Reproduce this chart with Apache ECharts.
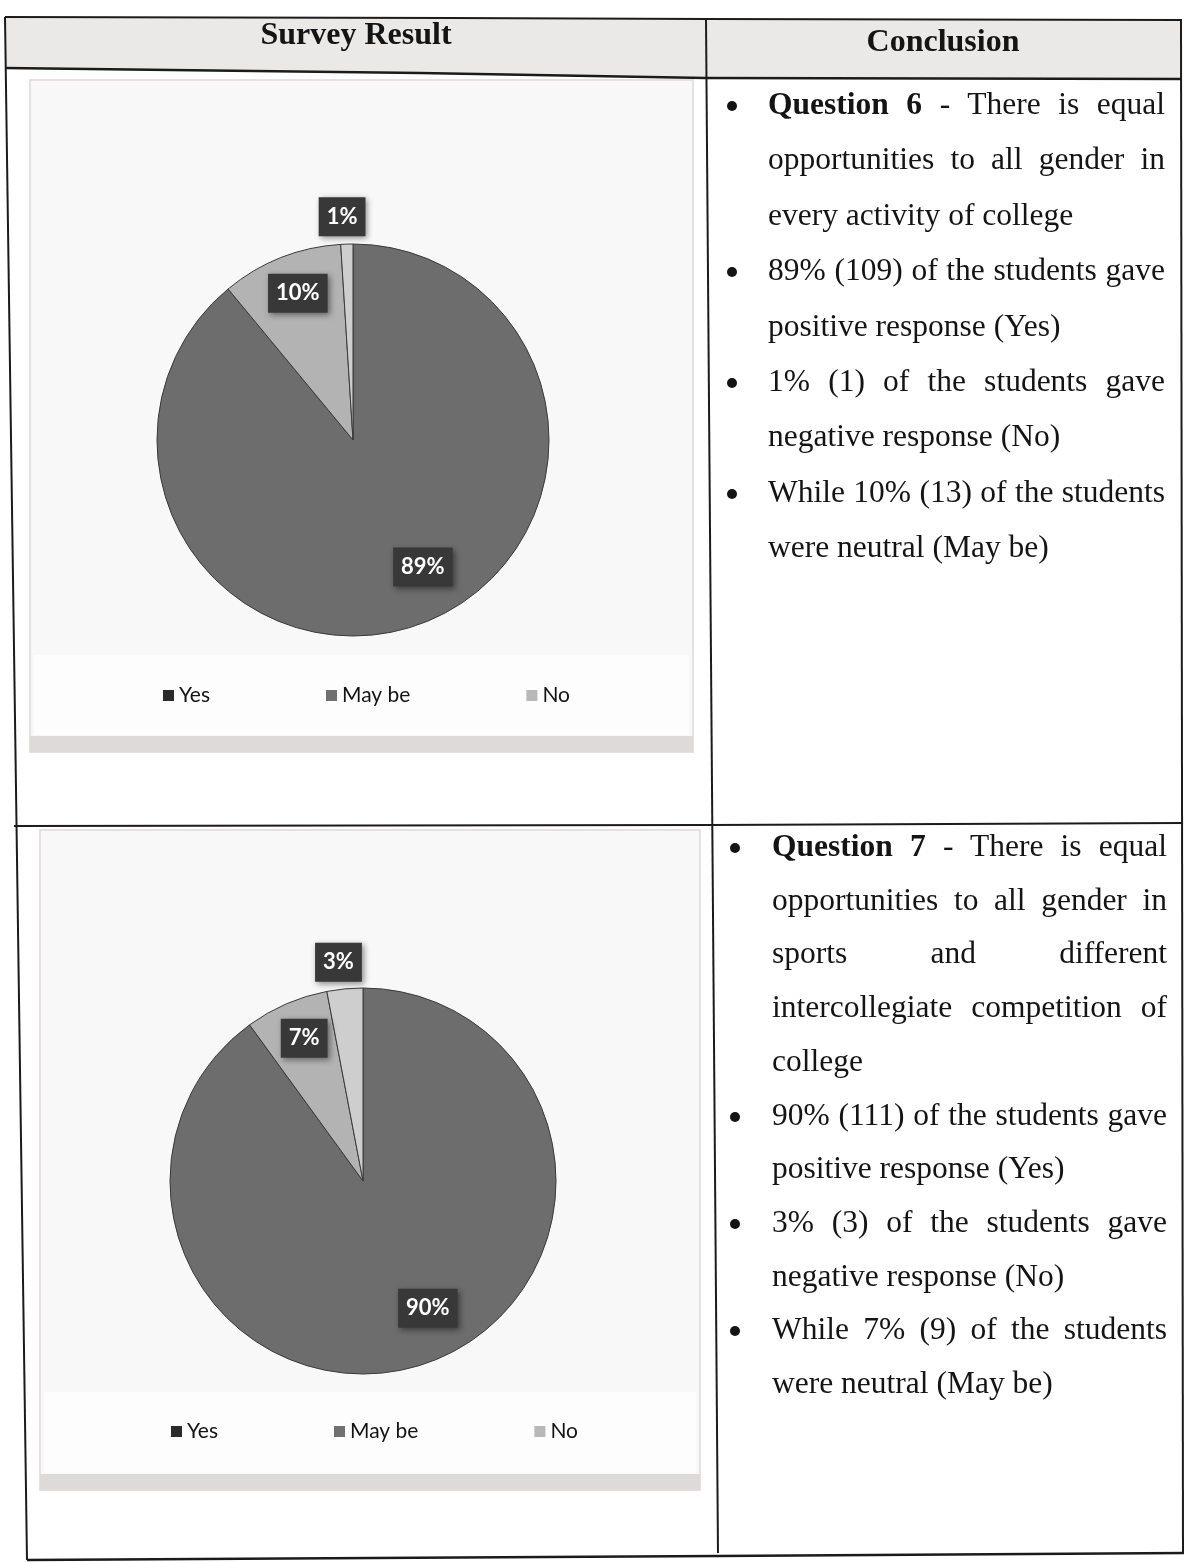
<!DOCTYPE html>
<html>
<head>
<meta charset="utf-8">
<script src="https://cdn.jsdelivr.net/npm/echarts@6/dist/echarts.min.js"></script>
<style>
html,body{margin:0;padding:0;background:#fff;}
#page{position:relative;width:1184px;height:1562px;overflow:hidden;background:#fff;}
#chart{position:absolute;left:0;top:0;width:1184px;height:1562px;}
.t{position:absolute;font-family:"Liberation Serif","Times New Roman",serif;font-size:31.5px;color:#141414;height:40px;line-height:40px;}
.j{text-align:justify;text-align-last:justify;}
.b{position:absolute;width:10px;height:10px;border-radius:50%;background:#141414;}
.h{position:absolute;font-family:"Liberation Serif","Times New Roman",serif;font-weight:bold;font-size:32px;color:#141414;text-align:center;height:40px;line-height:40px;width:400px;}
</style>
</head>
<body>
<div id="page">
  <div id="chart"></div>
  <div id="text"></div>
</div>
<script>
// ---- data ----
const categories = ['Yes', 'May be', 'No'];
const q6Values = [89, 10, 1];
const q7Values = [90, 7, 3];
const headerTitles = ['Survey Result', 'Conclusion'];
const q6Lines = [
  {html: '<b>Question 6</b> - There is equal', j: true, bullet: true},
  {html: 'opportunities to all gender in', j: true},
  {html: 'every activity of college'},
  {html: '89% (109) of the students gave', j: true, bullet: true},
  {html: 'positive response (Yes)'},
  {html: '1% (1) of the students gave', j: true, bullet: true},
  {html: 'negative response (No)'},
  {html: 'While 10% (13) of the students', j: true, bullet: true},
  {html: 'were neutral (May be)'}
];
const q7Lines = [
  {html: '<b>Question 7</b> - There is equal', j: true, bullet: true},
  {html: 'opportunities to all gender in', j: true},
  {html: 'sports and different', j: true},
  {html: 'intercollegiate competition of', j: true},
  {html: 'college'},
  {html: '90% (111) of the students gave', j: true, bullet: true},
  {html: 'positive response (Yes)'},
  {html: '3% (3) of the students gave', j: true, bullet: true},
  {html: 'negative response (No)'},
  {html: 'While 7% (9) of the students', j: true, bullet: true},
  {html: 'were neutral (May be)'}
];

// ---- text (table cells) ----
const textRoot = document.getElementById('text');
function addHeader(txt, cx, cy) {
  const d = document.createElement('div');
  d.className = 'h';
  d.style.left = (cx - 200) + 'px';
  d.style.top = (cy - 20) + 'px';
  d.textContent = txt;
  textRoot.appendChild(d);
}
addHeader(headerTitles[0], 356, 33);
addHeader(headerTitles[1], 943, 40);

function addBlock(lines, firstCy, step, left, width, bulletX) {
  lines.forEach((ln, i) => {
    const cy = firstCy + i * step;
    const d = document.createElement('div');
    d.className = 't' + (ln.j ? ' j' : '');
    d.style.left = left + 'px';
    d.style.width = width + 'px';
    d.style.top = (cy - 20) + 'px';
    d.innerHTML = ln.html;
    textRoot.appendChild(d);
    if (ln.bullet) {
      const b = document.createElement('div');
      b.className = 'b';
      b.style.left = (bulletX - 5) + 'px';
      b.style.top = (cy + 2 - 5) + 'px';
      textRoot.appendChild(b);
    }
  });
}
addBlock(q6Lines, 104, 55.4, 768, 397, 732);
addBlock(q7Lines, 846, 53.7, 772, 395, 735);

// ---- chart ----
const pieColors = ['#6d6d6d', '#b3b3b3', '#cecece'];
const legendIconColors = ['#2b2b2b', '#707070', '#b8b8b8'];
const labelFrac = [0.74, 0.8, 1.14];
const labelShift = [-9, 1, -1];

function pieSeries(values, center, radius) {
  const total = values.reduce((a, b) => a + b, 0);
  return {
    type: 'pie',
    center: center,
    radius: radius,
    startAngle: 90,
    clockwise: true,
    animation: false,
    silent: true,
    avoidLabelOverlap: false,
    color: pieColors,
    itemStyle: {borderColor: '#3a3a3a', borderWidth: 1},
    label: {
      show: true,
      position: 'inside',
      formatter: p => p.value + '%',
      color: '#ffffff',
      fontFamily: 'Lato',
      fontWeight: 'bold',
      fontSize: 22,
      backgroundColor: '#383838',
      padding: [9, 8, 8, 8],
      shadowColor: 'rgba(0,0,0,0.45)',
      shadowBlur: 6,
      shadowOffsetX: 2,
      shadowOffsetY: 2
    },
    labelLine: {show: false},
    labelLayout: function (p) {
      const i = p.dataIndex;
      let start = 0;
      for (let k = 0; k < i; k++) start += values[k];
      const mid = (start + values[i] / 2) / total * 360 + labelShift[i];
      const a = mid * Math.PI / 180;
      const d = radius * labelFrac[i];
      return {x: center[0] + d * Math.sin(a), y: center[1] - d * Math.cos(a), align: 'center', verticalAlign: 'middle'};
    },
    data: categories.map((c, i) => ({name: c, value: values[i]}))
  };
}

function legendCfg(left, top) {
  return {
    left: left, top: top,
    orient: 'horizontal',
    icon: 'rect',
    itemWidth: 11, itemHeight: 11,
    itemGap: 116,
    selectedMode: false,
    itemStyle: {borderWidth: 0},
    textStyle: {fontFamily: 'Lato', fontSize: 21, color: '#141414'},
    data: categories.map((c, i) => ({name: c, itemStyle: {color: legendIconColors[i], borderWidth: 0}}))
  };
}

const lineStyle = {stroke: '#1b1b1b', lineWidth: 2, fill: null};
function pl(points, w) {
  return {type: 'polyline', silent: true, shape: {points: points}, style: Object.assign({}, lineStyle, w ? {lineWidth: w} : {})};
}

const option = {
  backgroundColor: '#ffffff',
  animation: false,
  legend: [legendCfg(158, 680), legendCfg(166, 1416)],
  series: [
    pieSeries(q6Values, [353, 440], 196),
    pieSeries(q7Values, [363, 1181], 193)
  ],
  graphic: [
    // header background
    {type: 'polygon', silent: true, shape: {points: [[5, 17], [1182, 20], [1182, 79], [706, 78], [420, 73], [5, 68]]}, style: {fill: '#ebe8e8'}},
    // Q6 chart panel
    {type: 'rect', silent: true, shape: {x: 30, y: 80, width: 663, height: 672}, style: {fill: '#f9f8f8', stroke: '#e6e0e0', lineWidth: 2}},
    {type: 'rect', silent: true, shape: {x: 34, y: 655, width: 655, height: 80}, style: {fill: '#fdfdfd'}},
    {type: 'rect', silent: true, shape: {x: 30, y: 736, width: 663, height: 16}, style: {fill: '#dedada'}},
    // Q7 chart panel
    {type: 'rect', silent: true, shape: {x: 40, y: 830, width: 660, height: 660}, style: {fill: '#f9f8f8', stroke: '#e6e0e0', lineWidth: 2}},
    {type: 'rect', silent: true, shape: {x: 44, y: 1392, width: 652, height: 81}, style: {fill: '#fdfdfd'}},
    {type: 'rect', silent: true, shape: {x: 40, y: 1474, width: 660, height: 16}, style: {fill: '#dedada'}},
    // table lines
    pl([[5, 17], [450, 18], [706, 19], [1182, 20]]),
    pl([[5, 68], [420, 73], [706, 78], [1182, 79]], 2.5),
    pl([[5, 17], [27, 1560]]),
    pl([[706, 19], [718, 1553]]),
    pl([[1181, 20], [1183, 1553]]),
    pl([[14, 826], [710, 825], [1183, 823]]),
    pl([[27, 1560], [718, 1556], [1184, 1553]], 2.5)
  ]
};

const chart = echarts.init(document.getElementById('chart'), null, {width: 1184, height: 1562});
chart.setOption(option);
</script>
</body>
</html>
